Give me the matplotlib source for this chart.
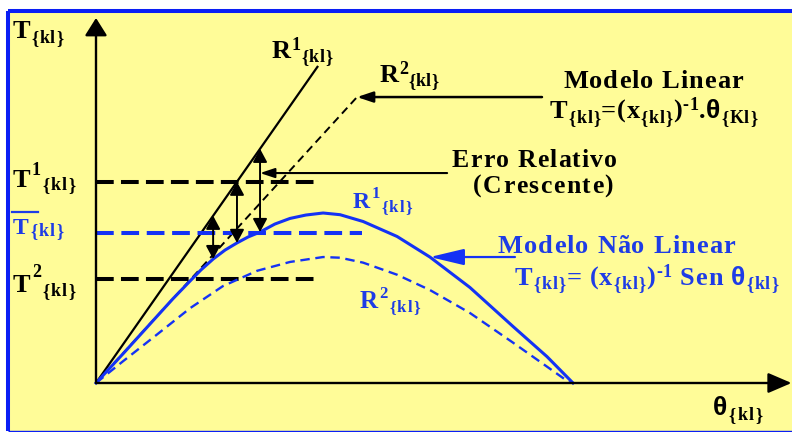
import numpy as np
import matplotlib
matplotlib.use("Agg")
import matplotlib.pyplot as plt
from matplotlib.patches import Rectangle
from matplotlib.lines import Line2D
from matplotlib.patches import ArrowStyle

# --- DATA (theta in degrees, T normalised to the peak of R1) ---
theta_r1 = [0, 10.2, 23.0, 29.0, 35.5, 39.6, 44.2, 48.7, 53.2, 57.4, 61.9, 67.5,
            73.2, 79.2, 85.7, 92.1, 100.8, 113.6, 126.0, 141.1, 157.4, 170.2, 180.0]
T_r1 = [0, 0.172, 0.392, 0.495, 0.600, 0.665, 0.729, 0.782, 0.824, 0.859, 0.888, 0.935,
        0.968, 0.988, 1.0, 0.990, 0.950, 0.862, 0.741, 0.562, 0.332, 0.155, 0]

theta_r2 = [0, 10.2, 23.0, 35.5, 47.9, 60.8, 73.2, 85.7, 92.1,
            100.8, 113.6, 126.0, 141.1, 157.4, 170.2, 178.9]
T_r2 = [0, 0.128, 0.285, 0.440, 0.570, 0.660, 0.712, 0.741, 0.737,
        0.708, 0.637, 0.547, 0.412, 0.237, 0.096, 0]

# linear model lines (end points)
lin1_theta = [0, 83.8]
lin1_T = [0, 1.865]
lin2_theta = [0, 98.5]
lin2_T = [0, 1.682]

# reference levels: value, length along theta
T1_level, T1_len = 1.182, 84.5
Tbar_level, Tbar_len = 0.882, 100.4
T2_level, T2_len = 0.612, 83.8

# error arrows are drawn at these samples of R1
err_idx = [6, 8, 10]
# R1 sample the "Modelo Nao Linear" pointer lands on
nl_idx = 18

# --- LAYOUT ---
W, H = 792, 432
OX, OY = 96, 383          # pixel position of the origin
PX_THETA, PX_T = 2.65, 170.0

BLACK = "#000000"
BLUE = "#1432F5"
BLUE_TXT = "#1E3CE6"
YELLOW = "#FFFC98"
FRAME = "#0A1EF5"

fig = plt.figure(figsize=(W / 100, H / 100), dpi=100, facecolor="white")
renderer = fig.canvas.get_renderer()

# yellow panel with blue frame
fig.patches.append(Rectangle((8 / W, 1 - 431 / H), 800 / W, 420 / H,
                             transform=fig.transFigure, facecolor=YELLOW,
                             edgecolor="none", zorder=-2))
for xs, ys, lw in [((8, 8), (11, 431), 2.9), ((8, 800), (11, 11), 2.9),
                   ((8, 800), (430.5, 430.5), 1.0)]:
    fig.lines.append(Line2D([x / W for x in xs], [1 - y / H for y in ys],
                            transform=fig.transFigure, color=FRAME, lw=lw,
                            solid_capstyle="butt", zorder=-1))

ax = fig.add_axes([0, 0, 1, 1])
ax.set_xlim(-OX / PX_THETA, (W - OX) / PX_THETA)
ax.set_ylim(-(H - OY) / PX_T, OY / PX_T)
ax.axis("off")
ax.patch.set_visible(False)


def arrow(tail, tip, color, lw, style, ms, hl, hw):
    ax.annotate("", xy=tip, xytext=tail,
                arrowprops=dict(arrowstyle=ArrowStyle(style, head_length=hl, head_width=hw),
                                color=color, lw=lw, shrinkA=0, shrinkB=0,
                                mutation_scale=ms))


# axes
arrow((0, 0), (0, (OY - 18) / PX_T), BLACK, 1.7, "-|>", 20, 0.54, 0.34)
arrow((0, 0), ((W - OX - 0.5) / PX_THETA, 0), BLACK, 1.7, "-|>", 20, 0.72, 0.31)

# linear models
ax.plot(lin1_theta, lin1_T, color=BLACK, lw=1.6, solid_capstyle="butt")
ax.plot(lin2_theta, lin2_T, color=BLACK, lw=1.4, dashes=(4.1, 2.6))

# reference levels
ax.plot([0, T1_len], [T1_level] * 2, color=BLACK, lw=2.9, dashes=(4.4, 1.8))
ax.plot([0, T2_len], [T2_level] * 2, color=BLACK, lw=2.9, dashes=(4.4, 1.8))
ax.plot([0, Tbar_len], [Tbar_level] * 2, color=BLUE, lw=2.9, dashes=(4.4, 1.9))

# non linear models
ax.plot(theta_r1, T_r1, color=BLUE, lw=2.2, solid_joinstyle="round")
ax.plot(theta_r2, T_r2, color=BLUE, lw=1.7, dashes=(4.0, 2.4))

# relative error between linear and non linear R1
slope1 = lin1_T[1] / lin1_theta[1]
for i in err_idx:
    th = theta_r1[i]
    arrow((th, slope1 * th), (th, T_r1[i]), BLACK, 1.4, "<|-|>", 10, 0.8, 0.43)

# pointer arrows
arrow((168.3, lin2_T[1]), (lin2_theta[1], lin2_T[1]), BLACK, 1.8, "-|>", 10, 0.95, 0.32)
arrow((132.5, 1.235), (theta_r1[err_idx[-1]], 1.235), BLACK, 1.5, "-|>", 10, 0.87, 0.29)
arrow((158.1, T_r1[nl_idx]), (theta_r1[nl_idx], T_r1[nl_idx]), BLUE, 1.6, "-|>", 10, 2.1, 0.5)


def rich(x0, x1, y, runs, color):
    """Bold serif text laid out char by char, stretched to span x0..x1 (pixels)."""
    pieces = [(ch, size, dy) for text, size, dy in runs for ch in text]
    items = []
    for ch, size, dy in pieces:
        if ch == " ":
            items.append((None, size * 100 / 72 * 0.25, dy))
            continue
        fam = "Liberation Sans" if ch == "θ" else "Liberation Serif"
        t = fig.text(0, 0, ch, fontsize=size, family=fam, weight="bold",
                     color=color, ha="left", va="baseline")
        items.append((t, t.get_window_extent(renderer).width, dy))
    gap = (x1 - x0 - sum(w for _, w, _ in items)) / max(len(items) - 1, 1)
    x = x0
    for t, w, dy in items:
        if t is not None:
            t.set_position((x / W, 1 - (y + dy) / H))
        x += w + gap


# axis titles
rich(13, 63, 38, [("T", 19, 0), ("{kl}", 13, 5)], BLACK)
rich(713, 762, 415, [("θ", 19, 0), ("{kl}", 13, 5)], BLACK)

# linear line names
rich(272, 332, 58, [("R", 19, 0), ("1", 13, -8), ("{kl}", 13, 4)], BLACK)
rich(380, 438, 82, [("R", 19, 0), ("2", 13, -8), ("{kl}", 13, 4)], BLACK)

# level names
rich(13, 75, 187, [("T", 19, 0), ("1", 13, -12), ("{kl}", 13, 3)], BLACK)
rich(13, 75, 292, [("T", 19, 0), ("2", 13, -15), ("{kl}", 13, 4)], BLACK)
rich(13, 63, 234, [("T", 17, 0), ("{kl}", 13, 2)], BLUE_TXT)
fig.lines.append(Line2D([12 / W, 38 / W], [1 - 212 / H] * 2, transform=fig.transFigure,
                        color=BLUE_TXT, lw=1.6))

# non linear curve names
rich(353, 412, 208, [("R", 17, 0), ("1", 12, -10), ("{kl}", 12, 4)], BLUE_TXT)
rich(360, 420, 308, [("R", 18, 0), ("2", 12, -10), ("{kl}", 12, 4)], BLUE_TXT)

# annotations
rich(563, 743, 88, [("Modelo Linear", 19, 0)], BLACK)
rich(550, 757, 118, [("T", 19, 0), ("{kl}", 13, 5), ("=(x", 19, 0), ("{kl}", 13, 5),
                     (")", 19, 0), ("-1", 13, -8), (".θ", 19, 0), ("{Kl}", 13, 5)], BLACK)
rich(452, 617, 167, [("Erro Relativo", 18.5, 0)], BLACK)
rich(473, 613, 193, [("(Crescente)", 18.5, 0)], BLACK)
rich(498, 735, 253, [("Modelo Não Linear", 19, 0)], BLUE_TXT)
rich(515, 778, 285, [("T", 19, 0), ("{kl}", 13, 4), ("= (x", 19, 0), ("{kl}", 13, 4),
                     (")", 19, 0), ("-1", 13, -8), (" Sen ", 19, 0), ("θ", 19, 0),
                     ("{kl}", 13, 4)], BLUE_TXT)

fig.savefig("out.png", dpi=100, facecolor="white")
